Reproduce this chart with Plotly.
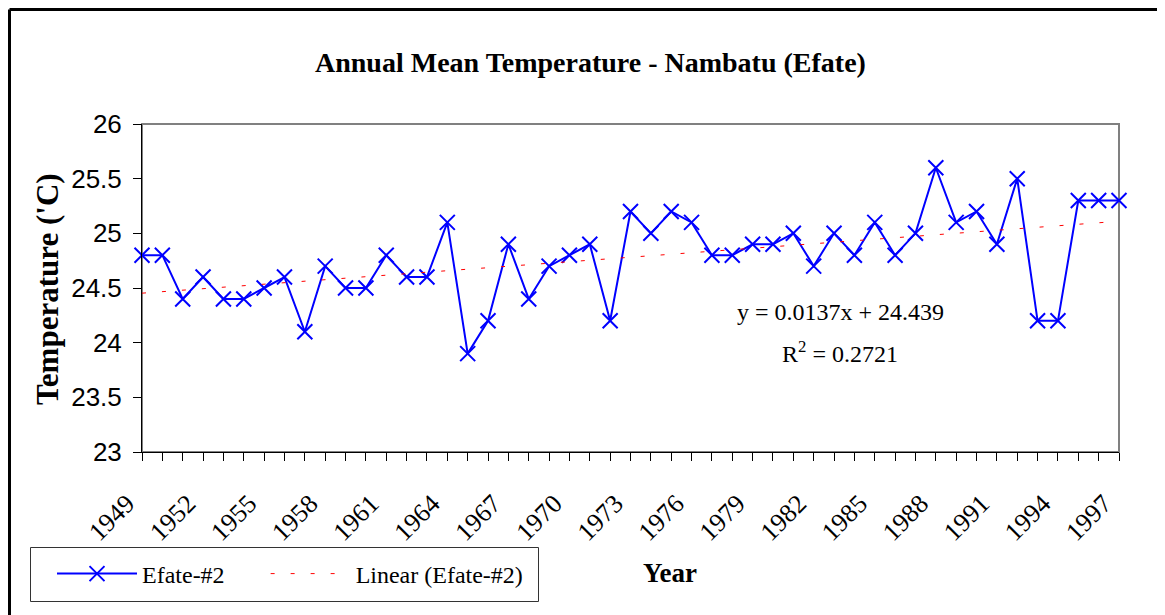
import plotly.graph_objects as go

years = list(range(1949, 1998))
temps = [24.8, 24.8, 24.4, 24.6, 24.4, 24.4, 24.5, 24.6, 24.1, 24.7,
         24.5, 24.5, 24.8, 24.6, 24.6, 25.1, 23.9, 24.2, 24.9, 24.4,
         24.7, 24.8, 24.9, 24.2, 25.2, 25.0, 25.2, 25.1, 24.8, 24.8,
         24.9, 24.9, 25.0, 24.7, 25.0, 24.8, 25.1, 24.8, 25.0, 25.6,
         25.1, 25.2, 24.9, 25.5, 24.2, 24.2, 25.3, 25.3, 25.3]
tick_years = list(range(1949, 1998, 3))
trend_slope = 0.0137
trend_intercept = 24.439
trend = [trend_slope * (i + 1) + trend_intercept for i in range(len(years))]

OFF = 8  # browser body margin
W, H = 1165 - OFF, 615 - OFF
L, T = 142 - OFF, 124 - OFF
PW, PH = 977, 328
R, B = W - L - PW, H - T - PH

def px(x):
    return (x - OFF - L) / PW

def py(y):
    return 1 - (y - OFF - T) / PH

serif = "Liberation Serif, Times New Roman, serif"
sans = "Liberation Sans, Arial, sans-serif"
pad = "\u00a0" * 6

fig = go.Figure()
fig.add_trace(go.Scatter(
    x=years, y=temps, mode="lines+markers", name="Efate-#2" + pad,
    line=dict(color="#0000ff", width=2),
    marker=dict(symbol="x-thin-open", size=15, color="#0000ff",
                line=dict(color="#0000ff", width=2)),
    cliponaxis=False,
))
fig.add_trace(go.Scatter(
    x=years, y=trend, mode="lines", name="Linear (Efate-#2)",
    line=dict(color="#ff0000", width=1, dash="4px,16px"),
))

fig.update_layout(
    width=W, height=H,
    margin=dict(l=L, r=R, t=T, b=B, pad=0),
    paper_bgcolor="white", plot_bgcolor="white",
    showlegend=True,
    legend=dict(
        orientation="h", x=px(52), y=py(574), xanchor="left", yanchor="middle",
        font=dict(family=serif, size=24, color="black"),
        borderwidth=0, bgcolor="rgba(0,0,0,0)",
        itemwidth=80, tracegroupgap=0,
    ),
    xaxis=dict(
        range=[1949, 1997], tickmode="array", tickvals=tick_years,
        ticktext=[str(y) for y in tick_years], tickangle=-45,
        ticks="outside", ticklen=8, tickcolor="black", tickwidth=1,
        showline=True, linecolor="black", linewidth=1, showgrid=False,
        zeroline=False, ticklabelstandoff=17, ticklabelshift=-15,
        tickfont=dict(family=serif, size=26, color="black"),
        minor=dict(ticks="outside", ticklen=8, dtick=1, tick0=1949,
                   tickcolor="black", showgrid=False),
    ),
    yaxis=dict(
        range=[23, 26], dtick=0.5, tick0=23,
        ticks="outside", ticklen=8, tickcolor="black", tickwidth=1,
        showline=True, linecolor="black", linewidth=1, showgrid=False,
        zeroline=False, ticklabelstandoff=6,
        tickfont=dict(family=sans, size=26, color="black"),
    ),
    shapes=[
        dict(type="rect", xref="paper", yref="paper", x0=0, x1=1, y0=0, y1=1,
             line=dict(color="#808080", width=2), layer="below"),
        dict(type="line", xref="paper", yref="paper",
             x0=px(9.5), x1=px(1175), y0=py(9.5), y1=py(9.5),
             line=dict(color="black", width=3)),
        dict(type="line", xref="paper", yref="paper",
             x0=px(9.5), x1=px(9.5), y0=py(9.5), y1=py(630),
             line=dict(color="black", width=3)),
        dict(type="rect", xref="paper", yref="paper",
             x0=px(30.5), x1=px(538.5), y0=py(547.5), y1=py(601.5),
             line=dict(color="#333333", width=1), layer="below"),
    ],
    annotations=[
        dict(text="<b>Annual Mean Temperature - Nambatu (Efate)</b>",
             xref="paper", yref="paper", x=px(590), y=py(63),
             xanchor="center", yanchor="middle", showarrow=False,
             font=dict(family=serif, size=28, color="black")),
        dict(text="<b>Temperature ('C)</b>", textangle=-90,
             xref="paper", yref="paper", x=px(47), y=py(289),
             xanchor="center", yanchor="middle", showarrow=False,
             font=dict(family=serif, size=31, color="black")),
        dict(text="<b>Year</b>",
             xref="paper", yref="paper", x=px(670), y=py(573),
             xanchor="center", yanchor="middle", showarrow=False,
             font=dict(family=serif, size=27, color="black")),
        dict(text="y = 0.0137x + 24.439",
             xref="paper", yref="paper", x=px(840), y=py(312),
             xanchor="center", yanchor="middle", showarrow=False,
             font=dict(family=serif, size=24, color="black")),
        dict(text="R<sup>2</sup> = 0.2721",
             xref="paper", yref="paper", x=px(840), y=py(352),
             xanchor="center", yanchor="middle", showarrow=False,
             font=dict(family=serif, size=24, color="black")),
    ],
)

fig.write_html("out.html")
